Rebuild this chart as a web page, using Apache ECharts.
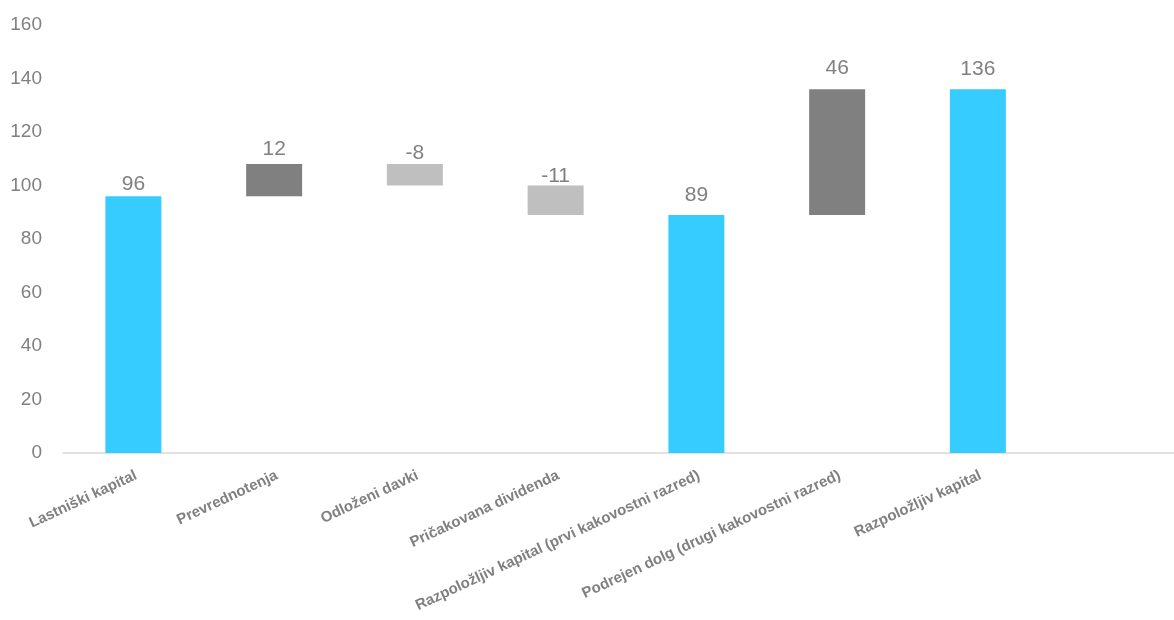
<!DOCTYPE html>
<html>
<head>
<meta charset="utf-8">
<script src="https://cdn.jsdelivr.net/npm/echarts@6/dist/echarts.min.js"></script>
<style>html,body{margin:0;padding:0;background:#fff}#c{width:1174px;height:620px}</style>
</head>
<body>
<div id="c"></div>
<script>
const categories = ['Lastniški kapital', 'Prevrednotenja', 'Odloženi davki', 'Pričakovana dividenda',
  'Razpoložljiv kapital (prvi kakovostni razred)', 'Podrejen dolg (drugi kakovostni razred)', 'Razpoložljiv kapital', ''];
const barLow  = [0, 96, 100, 89, 0, 89, 0];
const barHigh = [96, 108, 108, 100, 89, 136, 136];
const valueLabels = ['96', '12', '-8', '-11', '89', '46', '136'];
const barKinds = ['total', 'up', 'down', 'down', 'total', 'up', 'total'];
const yTicks = [0, 20, 40, 60, 80, 100, 120, 140, 160];

// styling (not data)
const kindColor = { total: '#36CCFF', up: '#808080', down: '#BFBFBF' };
const labelGap = [1, 4, 0, -1, 9, 10, 9];
const font = '"Liberation Sans", Arial, sans-serif';

const chart = echarts.init(document.getElementById('c'), null, { renderer: 'canvas' });
chart.setOption({
  animation: false,
  grid: { left: 63, top: 25, right: -15, bottom: 167, containLabel: false, outerBoundsMode: 'none' },
  xAxis: {
    type: 'category',
    data: categories,
    axisLine: { lineStyle: { color: '#d9d9d9', width: 1.5 } },
    axisTick: { show: false },
    axisLabel: {
      interval: 0, rotate: 25, margin: 23,
      color: '#808080', fontWeight: 'bold', fontSize: 15,
      fontFamily: font, padding: [0, -3, 0, 0]
    }
  },
  yAxis: {
    type: 'value', min: yTicks[0], max: yTicks[yTicks.length - 1], interval: 20,
    axisLine: { show: false }, axisTick: { show: false }, splitLine: { show: false },
    axisLabel: { color: '#808080', fontSize: 19, margin: 21, fontFamily: font }
  },
  series: [
    {
      type: 'bar', stack: 'w', barWidth: 56,
      itemStyle: { color: 'transparent' },
      emphasis: { disabled: true },
      data: barLow
    },
    {
      type: 'bar', stack: 'w', barWidth: 56,
      data: barHigh.map((h, i) => ({
        value: h - barLow[i],
        itemStyle: { color: kindColor[barKinds[i]] },
        label: { distance: labelGap[i] }
      })),
      label: {
        show: true, position: 'top',
        color: '#808080', fontSize: 21, fontFamily: font,
        formatter: p => valueLabels[p.dataIndex]
      }
    }
  ]
});
</script>
</body>
</html>
